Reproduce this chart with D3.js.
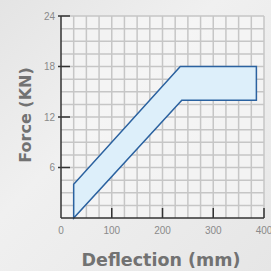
<!DOCTYPE html>
<html>
<head>
<meta charset="UTF-8">
<title>Force vs Deflection</title>
<style>
  body { margin: 0; }
</style>
</head>
<body>
<script src="https://d3js.org/d3.v7.min.js"></script>
<script>
// data
var xTicks = [0, 100, 200, 300, 400];
var yTicks = [6, 12, 18, 24];
var bandX = [25, 25, 235, 385, 385, 238];
var bandY = [0, 4, 18, 18, 14, 14];

var width = 271, height = 271;
var svg = d3.select("body").append("svg")
  .attr("width", width)
  .attr("height", height);

// background
var defs = svg.append("defs");
var bg = defs.append("linearGradient").attr("id", "bg")
  .attr("x1", 0).attr("y1", 0).attr("x2", 1).attr("y2", 1);
bg.append("stop").attr("offset", 0).attr("stop-color", "#e4e4e4");
bg.append("stop").attr("offset", 0.4).attr("stop-color", "#f0f0f0");
bg.append("stop").attr("offset", 1).attr("stop-color", "#e6e6e6");
svg.append("rect").attr("width", width).attr("height", height).attr("fill", "url(#bg)");

var x = d3.scaleLinear().domain([0, 400]).range([61, 264]);
var y = d3.scaleLinear().domain([0, 24]).range([218, 16]);

// plot area
svg.append("rect")
  .attr("x", x(0)).attr("y", y(24))
  .attr("width", x(400) - x(0)).attr("height", y(0) - y(24))
  .attr("fill", "#f6f6f6").attr("opacity", 0.7);

// grid
var grid = svg.append("g").attr("stroke", "#c6c6c6").attr("stroke-width", 1.5);
d3.range(25, 401, 25).forEach(function(v) {
  grid.append("line")
    .attr("x1", x(v)).attr("x2", x(v))
    .attr("y1", y(0)).attr("y2", y(24));
});
d3.range(1.5, 24.1, 1.5).forEach(function(v) {
  grid.append("line")
    .attr("x1", x(0)).attr("x2", x(400))
    .attr("y1", y(v)).attr("y2", y(v));
});

// band
var pts = bandX.map(function(d, i) { return [x(d), y(bandY[i])]; });
svg.append("path")
  .attr("d", d3.line()(pts) + "Z")
  .attr("fill", "#ddeffa")
  .attr("stroke", "#2b62a0")
  .attr("stroke-width", 1.5)
  .attr("stroke-linejoin", "miter");

// axes
var axisColor = "#333";
svg.append("line")
  .attr("x1", x(0)).attr("x2", x(0))
  .attr("y1", y(24)).attr("y2", y(0))
  .attr("stroke", axisColor).attr("stroke-width", 1.5);
svg.append("line")
  .attr("x1", x(0)).attr("x2", x(400))
  .attr("y1", y(0)).attr("y2", y(0))
  .attr("stroke", axisColor).attr("stroke-width", 1.5);

yTicks.forEach(function(v) {
  svg.append("line")
    .attr("x1", x(0) - 3).attr("x2", x(0) + 9)
    .attr("y1", y(v)).attr("y2", y(v))
    .attr("stroke", axisColor).attr("stroke-width", 1.5);
  svg.append("text")
    .attr("x", x(0) - 6).attr("y", y(v) + 3.5)
    .attr("text-anchor", "end")
    .attr("font-family", "Liberation Sans, Arial, sans-serif")
    .attr("font-size", 10)
    .attr("fill", "#8a8a8a")
    .text(v);
});

xTicks.forEach(function(v) {
  if (v > 0) {
    svg.append("line")
      .attr("x1", x(v)).attr("x2", x(v))
      .attr("y1", y(0)).attr("y2", y(0) - 10)
      .attr("stroke", axisColor).attr("stroke-width", 1.5);
  }
  svg.append("text")
    .attr("x", x(v)).attr("y", 234)
    .attr("text-anchor", "middle")
    .attr("font-family", "Liberation Sans, Arial, sans-serif")
    .attr("font-size", 10)
    .attr("fill", "#8a8a8a")
    .text(v);
});

// titles
svg.append("text")
  .attr("x", 161).attr("y", 266)
  .attr("text-anchor", "middle")
  .attr("font-family", "DejaVu Sans, sans-serif")
  .attr("font-weight", "bold")
  .attr("font-size", 17.5)
  .attr("fill", "#727272")
  .text("Deflection (mm)");

svg.append("text")
  .attr("transform", "translate(31,115) rotate(-90)")
  .attr("text-anchor", "middle")
  .attr("font-family", "DejaVu Sans, sans-serif")
  .attr("font-weight", "bold")
  .attr("font-size", 16)
  .attr("fill", "#727272")
  .text("Force (KN)");
</script>
</body>
</html>
